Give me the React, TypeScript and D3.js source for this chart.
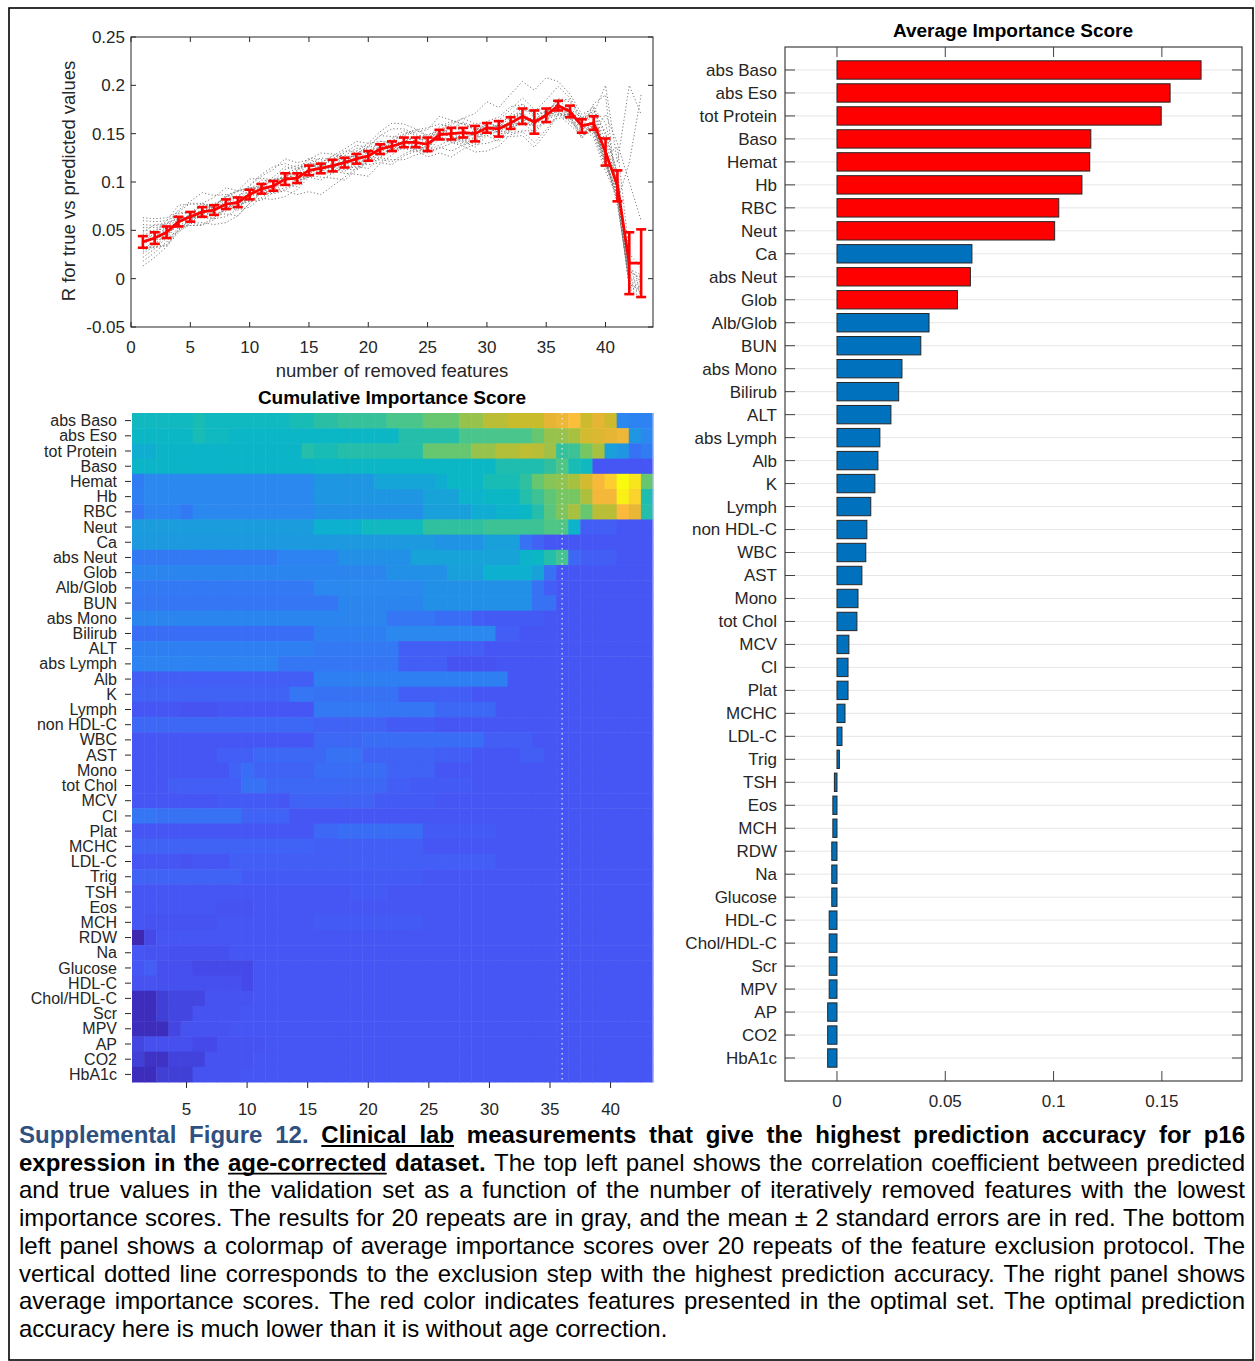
import React from 'react';
import * as d3 from 'd3';

// ---------------- DATA ----------------
const features = ['abs Baso','abs Eso','tot Protein','Baso','Hemat','Hb','RBC','Neut','Ca','abs Neut','Glob','Alb/Glob','BUN','abs Mono','Bilirub','ALT','abs Lymph','Alb','K','Lymph','non HDL-C','WBC','AST','Mono','tot Chol','MCV','Cl','Plat','MCHC','LDL-C','Trig','TSH','Eos','MCH','RDW','Na','Glucose','HDL-C','Chol/HDL-C','Scr','MPV','AP','CO2','HbA1c'];

const avgImportance = [0.1681,0.1538,0.1497,0.1172,0.1167,0.1131,0.1024,0.1005,0.0623,0.0616,0.0556,0.0425,0.0387,0.0300,0.0285,0.0249,0.0198,0.0189,0.0175,0.0156,0.0138,0.0133,0.0115,0.0097,0.0092,0.0055,0.0051,0.0051,0.0037,0.0023,0.0011,-0.0012,-0.0019,-0.0019,-0.0024,-0.0024,-0.0024,-0.0036,-0.0036,-0.0036,-0.0036,-0.0043,-0.0043,-0.0043];

const optimalSet = ['abs Baso','abs Eso','tot Protein','Baso','Hemat','Hb','RBC','Neut','abs Neut','Glob'];

const removedSteps = [1,2,3,4,5,6,7,8,9,10,11,12,13,14,15,16,17,18,19,20,21,22,23,24,25,26,27,28,29,30,31,32,33,34,35,36,37,38,39,40,41,42,43];

const meanR = [0.038,0.042,0.048,0.059,0.064,0.069,0.071,0.077,0.079,0.087,0.093,0.096,0.103,0.104,0.112,0.114,0.117,0.120,0.124,0.127,0.134,0.137,0.141,0.141,0.139,0.149,0.150,0.151,0.150,0.156,0.155,0.161,0.168,0.162,0.169,0.179,0.173,0.158,0.161,0.131,0.096,0.016,0.016];

const twoSE = [0.006,0.006,0.006,0.005,0.005,0.005,0.005,0.005,0.005,0.005,0.005,0.005,0.006,0.005,0.005,0.005,0.006,0.005,0.005,0.005,0.005,0.005,0.005,0.005,0.007,0.005,0.006,0.005,0.008,0.005,0.008,0.006,0.008,0.012,0.007,0.005,0.006,0.007,0.007,0.014,0.016,0.032,0.035];

// individual repeats, deviation from the mean in thousandths
const repeatDeviations = [
  [8,5,2,-3,-6,-2,4,9,12,7,3,-1,-5,-9,-4,2,6,10,14,9,4,1,-3,-7,-2,5,11,15,10,6,2,-4,-8,-3,3,7,12,8,10,69,24,184,154],
  [-12,-8,-4,-1,3,6,2,-3,-8,-13,-9,-5,0,4,8,3,-2,-7,-11,-6,-1,5,9,13,8,2,-3,-9,-14,-8,-2,4,9,5,0,-6,-10,-4,20,59,-16,104,174],
  [15,11,6,2,-2,1,5,8,4,-1,-6,-3,2,7,11,16,12,7,2,-3,-8,-4,1,6,10,5,0,-5,-1,4,9,14,19,13,7,1,-4,3,-10,39,44,84,44],
  [-20,-15,-10,-6,-9,-13,-8,-4,0,-5,-10,-14,-18,-12,-7,-2,-6,-11,-16,-21,-15,-9,-4,-8,-13,-19,-24,-17,-11,-5,-9,-14,-20,-26,-18,-10,-5,-12,0,-11,-6,-26,-36],
  [3,7,12,17,13,8,4,0,5,10,15,20,16,11,6,2,-2,3,8,13,18,24,19,14,9,4,9,15,21,27,22,30,36,33,39,25,18,12,15,30,10,-5,-20],
  [-5,-9,-13,-8,-3,2,7,3,-2,-7,-3,1,6,10,5,0,-4,-9,-5,-1,3,8,12,7,2,-3,-8,-12,-7,-2,3,-2,-7,-11,-6,-1,4,-2,-5,-8,-10,-20,-30],
  [22,17,12,8,4,9,13,17,12,7,2,-2,3,8,13,9,4,0,5,10,14,10,5,1,-4,1,6,11,7,2,-3,-8,-4,1,6,2,-3,1,-12,-15,-8,-22,-28],
  [-8,-3,1,-4,-9,-14,-10,-5,-1,3,-2,-7,-11,-6,-2,2,7,3,-2,-6,-11,-16,-12,-7,-3,2,-3,-8,-4,0,-5,-10,-15,-9,-4,1,-5,-9,-8,-12,-4,-18,-25],
  [10,14,9,4,0,-4,-8,-3,1,5,9,5,1,-3,-7,-12,-8,-3,1,6,2,-2,-6,-10,-5,0,5,10,5,1,-4,0,4,-1,-5,-9,-3,4,6,5,-2,-15,-22],
  [-16,-11,-6,-2,3,-1,-5,-10,-14,-9,-4,0,4,0,-5,-9,-13,-18,-12,-6,-1,4,0,-4,-9,-14,-10,-5,0,5,1,-4,-8,-4,1,-3,-7,-13,-2,-6,4,-12,-18],
  [2,-2,-6,-10,-6,-1,3,7,11,6,1,-3,1,5,0,-4,-8,-4,0,4,8,4,0,-4,-8,-13,-18,-13,-8,-3,2,6,2,-2,2,6,10,5,8,12,2,-10,-14],
  [-3,1,5,9,5,1,-3,-7,-3,1,5,9,13,9,5,1,-3,1,5,9,14,18,14,9,4,8,13,9,4,0,-4,1,6,11,16,20,14,8,12,18,14,-8,-16],
  [6,1,-4,-1,3,7,3,-2,-6,-2,2,6,2,-2,-6,-2,3,7,11,6,1,-3,-7,-3,2,-2,-6,-10,-6,-1,4,-1,-6,-2,3,-2,-7,-3,-15,-20,-12,-24,-32],
  [-10,-6,-1,3,-1,-5,-1,3,7,3,-1,-5,-9,-5,-1,3,7,12,8,3,-1,-6,-2,2,6,2,-3,-7,-11,-16,-11,-6,-1,3,-2,-6,-11,-6,-6,-10,-16,-20,-26],
  [12,8,4,0,-4,0,4,8,12,16,11,6,2,-2,2,6,10,6,2,-2,-6,-2,2,-2,-6,-11,-6,-1,3,-1,4,9,13,8,4,-1,-5,0,2,0,6,-14,-20],
  [-25,-20,-15,-11,-7,-11,-15,-19,-14,-9,-4,-8,-12,-17,-22,-27,-21,-15,-10,-5,-9,-14,-18,-13,-8,-4,-9,-14,-19,-24,-18,-12,-16,-21,-15,-9,-14,-10,-7,-14,-10,-24,-30],
  [18,13,8,12,16,20,15,10,5,9,13,17,21,16,11,6,10,14,18,13,8,3,7,11,15,19,14,9,4,0,4,8,3,-2,2,6,1,5,14,20,8,-6,-12],
  [-6,-10,-14,-9,-4,0,5,1,-3,-7,-12,-7,-2,2,7,11,6,1,-4,-9,-14,-19,-14,-9,-4,1,6,2,-3,-8,-13,-8,-3,2,-3,-8,-4,1,-4,-9,-14,-22,-27],
  [0,5,9,3,-1,-6,-9,-13,-7,-3,2,5,10,13,7,4,-1,-5,-9,-3,1,6,8,13,17,11,7,3,-2,-5,-9,-3,1,-5,-8,-13,-7,-2,-8,-4,-20,-16,-24],
  [25,20,15,10,14,9,4,0,-5,-1,3,7,2,-3,-7,-3,1,-3,-8,-13,-9,-4,1,5,1,-3,-7,-3,2,7,12,17,12,7,3,-2,3,8,18,-3,40,10,-5],
];

// cumulative importance (relative colour level 0-100), run-length pairs [level, count] per feature row, 43 steps
const heatRuns = [
  [46,5,48,1,46,7,48,2,51,2,53,4,56,3,60,3,66,2,71,2,74,3,80,1,82,1,86,1,75,1,80,1,75,1,25,1,23,2],
  [45,5,48,1,46,2,44,7,45,7,50,5,56,6,60,1,66,1,66,1,68,1,76,1,78,1,80,1,82,1,30,1,25,1],
  [39,2,43,12,50,1,48,2,50,7,60,4,66,2,70,2,72,1,71,1,67,1,53,1,54,1,62,1,68,1,33,1,30,1,18,1,21,1],
  [43,15,45,15,49,4,52,1,57,1,48,1,46,1,12,5],
  [21,1,25,14,30,5,35,5,39,1,45,3,48,3,52,1,60,1,64,1,65,1,68,1,76,1,84,1,90,1,100,1,96,1,60,1],
  [22,1,25,14,30,9,34,3,42,2,45,3,50,1,54,1,59,1,62,1,62,1,69,1,83,1,83,1,98,1,91,1,49,1],
  [19,1,23,3,20,1,25,10,28,9,33,4,38,2,42,2,45,1,50,1,58,1,63,1,68,1,60,1,71,1,71,1,85,1,81,1,50,1],
  [32,15,40,4,46,5,52,5,54,5,57,2,42,1,14,3,12,3],
  [31,25,29,4,33,3,18,1,15,1,12,9],
  [20,12,23,5,28,6,34,9,42,1,45,1,50,1,55,1,16,1,14,3,12,3],
  [24,21,28,5,33,3,40,4,34,1,18,1,12,8],
  [20,15,25,9,28,9,18,1,14,1,12,8],
  [19,17,24,7,28,9,18,2,12,8],
  [24,21,19,4,17,3,14,1,13,5,12,9],
  [17,15,22,6,25,9,14,2,12,11],
  [22,15,20,7,14,7,12,14],
  [23,12,19,10,14,4,11,4,12,13],
  [14,15,22,16,12,12],
  [15,13,19,2,18,7,14,6,12,15],
  [12,4,11,3,12,8,20,5,19,5,16,5,12,13],
  [16,15,15,6,13,4,12,18],
  [12,15,16,4,17,10,14,4,12,10],
  [12,7,14,3,16,6,18,3,15,6,14,3,12,4,14,2,12,9],
  [12,8,15,1,17,1,15,5,17,6,15,4,12,18],
  [12,3,14,6,18,2,16,10,14,2,13,5,12,15],
  [12,7,13,5,12,1,15,7,13,5,12,18],
  [19,2,18,7,15,4,12,30],
  [12,15,16,2,17,7,13,6,12,13],
  [15,15,14,9,12,19],
  [12,4,11,1,12,3,14,22,12,13],
  [15,9,13,15,12,19],
  [12,18,13,3,12,22],
  [12,7,11,3,12,33],
  [12,1,11,6,12,8,13,9,12,19],
  [1,1,9,1,12,41],
  [12,1,11,2,10,5,12,35],
  [12,1,14,1,10,3,9,5,12,33],
  [11,2,10,7,9,1,12,33],
  [3,2,6,1,8,3,11,4,12,33],
  [3,2,6,1,8,2,11,4,12,34],
  [3,3,8,1,11,4,12,35],
  [8,1,10,4,9,2,11,4,12,32],
  [6,1,4,2,7,3,11,4,12,33],
  [3,2,6,3,11,4,12,34],
];

const optimalStep = 36;

const lineXTicks = [0,5,10,15,20,25,30,35,40];
const lineYTicks = [-0.05,0,0.05,0.1,0.15,0.2,0.25];
const heatXTicks = [5,10,15,20,25,30,35,40];
const barXTicks = [0,0.05,0.1,0.15];

// parula-like colormap stops (level -> colour)
const cmapLevels = [0,3,6,9,10,12,15,18,22,25,30,34,40,45,48,52,57,62,68,74,80,85,91,96,100];
const cmapColors = ['#3E26A8','#3D2DBD','#4140D6','#4549E7','#4650EE','#4656F4','#4062F5','#3772F5','#2E80F2','#2A88EE','#1F96E2','#17A3D8','#0DB0CF','#0BB7C4','#18BCB4','#30C0A0','#50C686','#76C762','#A8C040','#C9BC2C','#E6B534','#FBBA3C','#FCD22C','#F7E51E','#F9FB0E'];

type Seg = { t: string; b?: boolean; u?: boolean; c?: string };
const CAP_BLUE = '#30507F';
const captionLines: Seg[][] = [
  [{ t: 'Supplemental Figure 12.', b: true, c: CAP_BLUE }, { t: 'Clinical lab', b: true, u: true }, { t: 'measurements that give the highest prediction accuracy for p16', b: true }],
  [{ t: 'expression in the', b: true }, { t: 'age-corrected', b: true, u: true }, { t: 'dataset.', b: true }, { t: 'The top left panel shows the correlation coefficient between predicted' }],
  [{ t: 'and true values in the validation set as a function of the number of iteratively removed features with the lowest' }],
  [{ t: 'importance scores. The results for 20 repeats are in gray, and the mean ± 2 standard errors are in red. The bottom' }],
  [{ t: 'left panel shows a colormap of average importance scores over 20 repeats of the feature exclusion protocol. The' }],
  [{ t: 'vertical dotted line corresponds to the exclusion step with the highest prediction accuracy. The right panel shows' }],
  [{ t: 'average importance scores. The red color indicates features presented in the optimal set. The optimal prediction' }],
  [{ t: 'accuracy here is much lower than it is without age correction.' }],
];

// ---------------- RENDER ----------------
const FONT = '"Liberation Sans", Arial, Helvetica, sans-serif';
const AX = '#262626';
const TICK_FS = 17;
const HEAT_LABEL_FS = 16;
const LABEL_FS = 18.5;
const TITLE_FS = 19;

function expandRuns(runs: number[]): number[] {
  const out: number[] = [];
  for (let i = 0; i < runs.length; i += 2) for (let k = 0; k < runs[i + 1]; k++) out.push(runs[i]);
  return out;
}

function Caption() {
  const ctx = React.useMemo(() => document.createElement('canvas').getContext('2d')!, []);
  const measure = (s: string, bold: boolean, size: number) => {
    ctx.font = `${bold ? 'bold ' : ''}${size}px ${FONT}`;
    return ctx.measureText(s).width;
  };
  const x0 = 19, x1 = 1245, base0 = 1143, lh = 27.7;
  const lines = captionLines.map(segs => {
    const words: { w: string; b: boolean; u: boolean; c: string; seg: number }[] = [];
    segs.forEach((s, si) => s.t.split(' ').forEach(w => words.push({ w, b: !!s.b, u: !!s.u, c: s.c || '#000', seg: si })));
    return words;
  });
  const natural = (words: any[], size: number) =>
    words.reduce((a, w) => a + measure(w.w, w.b, size), 0) + (words.length - 1) * measure(' ', false, size);
  const maxW = d3.max(lines.slice(0, 7), l => natural(l, 10))!;
  const size = Math.min(24, (1222 / maxW) * 10);
  const els: React.ReactNode[] = [];
  lines.forEach((words, li) => {
    const y = base0 + li * lh;
    const widths = words.map(w => measure(w.w, w.b, size));
    const total = d3.sum(widths);
    const justify = li < lines.length - 1;
    const gap = justify ? (x1 - x0 - total) / (words.length - 1) : measure(' ', false, size);
    let x = x0;
    const segBounds: Record<number, [number, number]> = {};
    words.forEach((w, wi) => {
      els.push(
        <text key={`c${li}-${wi}`} x={x} y={y} fontSize={size} fontWeight={w.b ? 'bold' : 'normal'} fill={w.c}>{w.w}</text>
      );
      if (w.u) {
        const sb = segBounds[w.seg];
        segBounds[w.seg] = sb ? [sb[0], x + widths[wi]] : [x, x + widths[wi]];
      }
      x += widths[wi] + gap;
    });
    Object.entries(segBounds).forEach(([k, [a, b]]) => {
      els.push(<line key={`u${li}-${k}`} x1={a} x2={b} y1={y + 3} y2={y + 3} stroke="#000" strokeWidth={1.8} />);
    });
  });
  return <g>{els}</g>;
}

export default function App() {
  // ----- line chart -----
  const lx = d3.scaleLinear().domain([0, 44]).range([131, 653]);
  const ly = d3.scaleLinear().domain([-0.05, 0.25]).range([327, 37]);
  const line = d3.line<[number, number]>().x(d => lx(d[0])).y(d => ly(d[1]));
  const grayPaths = repeatDeviations.map(dev =>
    line(removedSteps.slice(0, dev.length).map((s, i) => [s, meanR[i] + dev[i] / 1000] as [number, number]))
  );
  const meanPath = line(removedSteps.map((s, i) => [s, meanR[i]] as [number, number]));

  // ----- heatmap -----
  const hx = d3.scaleLinear().domain([0.5, 43.5]).range([132, 653]);
  const hy = d3.scaleBand<string>().domain(features).range([413, 1082]);
  const cmap = d3.scaleLinear<string>().domain(cmapLevels).range(cmapColors).interpolate(d3.interpolateRgb).clamp(true);
  const heat = heatRuns.map(expandRuns);

  // ----- bar chart -----
  const bx = d3.scaleLinear().domain([-0.024, 0.187]).range([785, 1242]);
  const by = d3.scaleLinear().domain([0, 45]).range([47, 1081]);
  const barH = (by(1) - by(0)) * 0.8;

  return (
    <svg width={1255} height={1361} style={{ position: 'absolute', left: 0, top: 0, background: '#fff' }} fontFamily={FONT}>
      <rect x={0} y={0} width={1255} height={1361} fill="#fff" />
      <rect x={9} y={8} width={1244} height={1352} fill="none" stroke="#000" strokeWidth={1.6} />

      {/* ===== line chart ===== */}
      <g>
        {grayPaths.map((p, i) => (
          <path key={`g${i}`} d={p || ''} fill="none" stroke="#7a7a7a" strokeWidth={1} strokeDasharray="1.2,2.2" />
        ))}
        <path d={meanPath || ''} fill="none" stroke="#FF0000" strokeWidth={2.8} />
        {removedSteps.map((s, i) => {
          const cx = lx(s), y1 = ly(meanR[i] - twoSE[i]), y2 = ly(meanR[i] + twoSE[i]);
          return (
            <g key={`e${i}`} stroke="#FF0000" strokeWidth={2.6}>
              <line x1={cx} x2={cx} y1={y1} y2={y2} />
              <line x1={cx - 5} x2={cx + 5} y1={y1} y2={y1} />
              <line x1={cx - 5} x2={cx + 5} y1={y2} y2={y2} />
            </g>
          );
        })}
        <rect x={131} y={37} width={522} height={290} fill="none" stroke={AX} strokeWidth={1} />
        {lineXTicks.map(t => (
          <g key={`lx${t}`}>
            <line x1={lx(t)} x2={lx(t)} y1={327} y2={322} stroke={AX} />
            <line x1={lx(t)} x2={lx(t)} y1={37} y2={42} stroke={AX} />
            <text x={lx(t)} y={353} fontSize={TICK_FS} fill={AX} textAnchor="middle">{String(t)}</text>
          </g>
        ))}
        {lineYTicks.map(t => (
          <g key={`ly${t}`}>
            <line x1={131} x2={136} y1={ly(t)} y2={ly(t)} stroke={AX} />
            <line x1={653} x2={648} y1={ly(t)} y2={ly(t)} stroke={AX} />
            <text x={125} y={ly(t)} dy="0.35em" fontSize={TICK_FS} fill={AX} textAnchor="end">{String(t)}</text>
          </g>
        ))}
        <text x={392} y={377} fontSize={LABEL_FS} fill={AX} textAnchor="middle">number of removed features</text>
        <text transform="translate(75,181) rotate(-90)" fontSize={LABEL_FS} fill={AX} textAnchor="middle">R for true vs predicted values</text>
      </g>

      {/* ===== heatmap ===== */}
      <g>
        <text x={392} y={404} fontSize={TITLE_FS} fontWeight="bold" fill="#000" textAnchor="middle">Cumulative Importance Score</text>
        {heat.map((row, r) =>
          row.map((v, c) => {
            const xa = hx(c + 0.5), xb = hx(c + 1.5);
            return (
              <rect key={`h${r}-${c}`} x={xa} y={hy(features[r])!} width={xb - xa + 0.5} height={hy.bandwidth() + 0.5} fill={cmap(v)} />
            );
          })
        )}
        <line x1={hx(optimalStep)} x2={hx(optimalStep)} y1={413} y2={1082} stroke="#e6e6f0" strokeWidth={1.2} strokeDasharray="1.5,3.5" />
        <line x1={653} x2={653} y1={413} y2={1082} stroke="#b8c0f0" strokeWidth={1} />
        {features.map(f => (
          <g key={`hy${f}`}>
            <line x1={125} x2={131} y1={hy(f)! + hy.bandwidth() / 2} y2={hy(f)! + hy.bandwidth() / 2} stroke={AX} />
            <text x={117} y={hy(f)! + hy.bandwidth() / 2} dy="0.35em" fontSize={HEAT_LABEL_FS} fill={AX} textAnchor="end">{f}</text>
          </g>
        ))}
        {heatXTicks.map(t => (
          <g key={`hx${t}`}>
            <line x1={hx(t)} x2={hx(t)} y1={1082} y2={1088} stroke={AX} />
            <text x={hx(t)} y={1115} fontSize={TICK_FS} fill={AX} textAnchor="middle">{String(t)}</text>
          </g>
        ))}
      </g>

      {/* ===== bar chart ===== */}
      <g>
        <text x={1013} y={37} fontSize={TITLE_FS} fontWeight="bold" fill="#000" textAnchor="middle">Average Importance Score</text>
        {features.map((f, i) => (
          <line key={`bg${f}`} x1={785} x2={1242} y1={by(i + 1)} y2={by(i + 1)} stroke="#e6e6e6" strokeWidth={1} />
        ))}
        {features.map((f, i) => {
          const v = avgImportance[i];
          const xa = bx(Math.min(0, v)), xb = bx(Math.max(0, v));
          return (
            <rect key={`b${f}`} x={xa} y={by(i + 1) - barH / 2} width={Math.max(xb - xa, 0.8)} height={barH}
              fill={optimalSet.includes(f) ? '#FF0000' : '#0072BD'} stroke="#262626" strokeWidth={1} />
          );
        })}
        <rect x={785} y={47} width={457} height={1034} fill="none" stroke="#404040" strokeWidth={1.2} />
        {features.map((f, i) => (
          <g key={`by${f}`}>
            <line x1={785} x2={795} y1={by(i + 1)} y2={by(i + 1)} stroke="#404040" />
            <line x1={1242} x2={1232} y1={by(i + 1)} y2={by(i + 1)} stroke="#404040" />
            <text x={777} y={by(i + 1)} dy="0.35em" fontSize={TICK_FS} fill={AX} textAnchor="end">{f}</text>
          </g>
        ))}
        {barXTicks.map(t => (
          <g key={`bx${t}`}>
            <line x1={bx(t)} x2={bx(t)} y1={47} y2={57} stroke="#404040" />
            <line x1={bx(t)} x2={bx(t)} y1={1081} y2={1071} stroke="#404040" />
            <text x={bx(t)} y={1107} fontSize={TICK_FS} fill={AX} textAnchor="middle">{String(t)}</text>
          </g>
        ))}
      </g>

      <Caption />
    </svg>
  );
}
